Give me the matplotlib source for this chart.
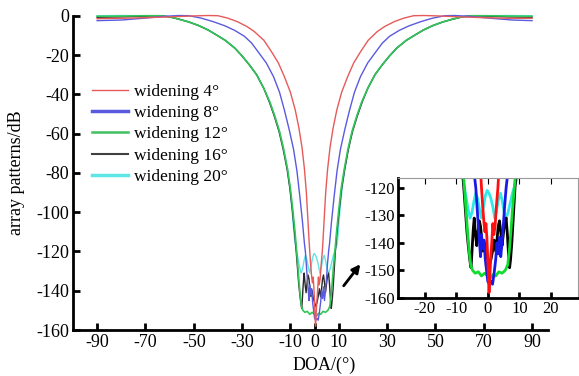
import numpy as np
import matplotlib
matplotlib.use("Agg")
import matplotlib.pyplot as plt
from matplotlib.lines import Line2D

plt.rcParams['font.family'] = ['Liberation Serif', 'DejaVu Serif']
plt.rcParams['axes.unicode_minus'] = False

# ---- data: DOA (deg) and array pattern (dB) ----
doa_4 = [-90, -80, -70, -60, -50, -44, -40, -36, -32, -28, -25, -21, -18, -15, -12.5, -10, -8, -6.5, -5.2, -4.2,
         -3.4, -2.8, -2.3, -2.0, -1.6, -1.2, -0.9, -0.6, -0.3, 0.0, 0.2, 0.4, 0.6, 0.9, 1.3, 1.6, 1.9, 2.3, 2.7,
         3.2, 3.5, 4.0, 4.6, 5.4, 6.4, 7.7, 9.2, 11.2, 13.7, 16.2, 19.2, 22.2, 26, 29, 33, 37, 41, 45, 51, 60,
         70, 80, 90]
db_4 = [-1.5, -1.3, -1.0, -0.6, -0.1, 0.1, 0, -1.2, -3, -5.5, -8, -12.5, -18, -24, -31, -39, -48, -57, -67, -78,
        -90, -103, -114, -120, -127, -133, -136, -133, -138, -146, -153, -158, -153, -146, -139, -133, -137, -134,
        -127, -120, -114, -103, -90, -78, -67, -57, -48, -39, -31, -24, -18, -12.5, -8, -5.5, -3, -1.2, 0, 0.1,
        -0.1, -0.6, -1.0, -1.3, -1.3]

doa_8 = [-90, -80, -70, -62, -56, -52, -47, -42, -37, -33, -29, -26, -23, -20, -17, -14.5, -12.5, -10.5, -8.7,
         -7.3, -6.1, -5.0, -4.2, -3.8, -3.4, -3.0, -2.6, -2.3, -2.0, -1.6, -1.2, -0.8, -0.4, 0.0, 0.5, 1.0, 1.5,
         2.0, 2.5, 2.9, 3.3, 3.7, 4.1, 4.5, 4.9, 5.3, 5.8, 6.2, 7.0, 8.1, 9.3, 10.7, 12.5, 14.5, 16.5, 19, 22,
         25, 28, 31, 35, 39, 44, 49, 54, 58, 64, 72, 82, 90]
db_8 = [-2.5, -2.2, -1.2, -0.3, 0.1, 0, -1.2, -3, -5.2, -7.5, -10.5, -14, -19, -24, -31, -39, -48, -58, -68,
        -79, -92, -105, -116, -120, -127, -134, -140, -145, -137, -142, -139, -146, -150, -154, -155, -154, -155,
        -151, -146, -140, -144, -138, -145, -140, -134, -127, -120, -116, -105, -92, -79, -68, -58, -48, -39,
        -31, -24, -19, -14, -10.5, -7.5, -5.2, -3, -1.2, 0, 0.1, -0.3, -1.2, -2.2, -2.5]

doa_12 = [-90, -80, -70, -64, -60, -56, -52, -48, -44, -41, -37, -33, -30, -27, -24, -21, -18.5, -16.5, -14.5,
          -12.8, -11.2, -10, -9, -8.1, -7.4, -6.9, -6.4, -5.9, -5.4, -4.8, -4.0, -3.0, -2.0, -1.0, 0.0, 0.8,
          1.6, 2.5, 3.5, 4.5, 5.5, 6.3, 6.8, 7.3, 7.8, 8.4, 9.1, 10, 11, 12.3, 13.8, 15.5, 17.5, 19.5, 22, 25,
          28, 31, 34, 38, 42, 45, 49, 53, 57, 61, 65, 71, 80, 90]
db_12 = [-0.3, -0.2, 0, 0, -0.6, -1.8, -3.2, -5, -7.3, -9.5, -12.5, -16.5, -20.5, -25, -30, -37, -44, -51, -59,
         -68, -78, -88, -99, -110, -120, -128, -136, -143, -148, -150, -151, -150.5, -152, -151, -152, -153,
         -151.5, -152, -150.5, -151, -150, -148, -143, -136, -128, -120, -110, -99, -88, -78, -68, -59, -51,
         -44, -37, -30, -25, -20.5, -16.5, -12.5, -9.5, -7.3, -5, -3.2, -1.8, -0.6, 0, 0, -0.2, -0.3]

doa_16 = [-90, -80, -70, -64, -60, -56, -52, -48, -44, -41, -37, -33, -30, -27, -24, -21, -18.7, -16.7, -14.7,
          -13.0, -11.4, -10.2, -9.2, -8.3, -7.6, -7.1, -6.6, -6.1, -5.6, -5.3, -5.0, -4.6, -4.3, -3.9, -3.5,
          -3.1, -2.7, -2.3, -1.9, -1.5, -1.0, -0.5, 0.0, 0.5, 1.0, 1.5, 2.0, 2.5, 2.9, 3.3, 3.7, 4.1, 4.5, 4.9,
          5.3, 5.8, 6.2, 6.6, 6.9, 7.2, 7.6, 8.0, 8.6, 9.3, 10.2, 11.2, 12.5, 14.0, 15.7, 17.7, 19.7, 22, 25, 28,
          31, 34, 38, 42, 45, 49, 53, 57, 61, 65, 71, 80, 90]
db_16 = [-0.8, -0.6, -0.2, 0, -0.6, -1.8, -3.2, -5, -7.3, -9.5, -12.5, -16.5, -20.5, -25, -30, -37, -44, -51,
         -59, -68, -78, -88, -99, -110, -120, -128, -136, -142, -147, -149, -143, -135, -131, -137, -141, -136,
         -132, -134, -139, -143, -140, -144, -146, -148, -146, -143, -139, -143, -139, -134, -132, -136, -141,
         -137, -133, -131, -137, -145, -149, -146, -140, -132, -120, -110, -99, -88, -78, -68, -59, -51, -44,
         -37, -30, -25, -20.5, -16.5, -12.5, -9.5, -7.3, -5, -3.2, -1.8, -0.6, 0, -0.2, -0.6, -0.8]

doa_20 = [-90, -80, -70, -64, -60, -56, -52, -48, -44, -41, -37, -33, -30, -27, -24, -21, -18.5, -16.5, -14.5,
          -12.8, -11.2, -10.2, -9.3, -8.6, -8.0, -7.4, -6.8, -6.2, -5.6, -5.0, -4.4, -3.8, -3.2, -2.6, -2.0,
          -1.4, -0.8, -0.2, 0.4, 1.0, 1.6, 2.2, 2.8, 3.4, 4.0, 4.6, 5.2, 5.8, 6.4, 7.0, 7.8, 8.6, 9.4, 9.8,
          10.5, 11.4, 12.5, 13.9, 15.5, 17.5, 19.5, 22, 25, 28, 31, 34, 38, 42, 45, 49, 53, 57, 61, 65, 71, 80, 90]
db_20 = [0, 0.1, 0, 0, -0.5, -1.8, -3.2, -5, -7.3, -9.5, -12.5, -16.5, -20.5, -25, -30, -37, -44, -51, -59,
         -68, -78, -88, -99, -110, -116, -120, -124, -128, -131, -129, -125, -122, -124, -128, -131, -127, -123,
         -121, -122, -124, -127, -131, -128, -124, -122, -125, -129, -131, -129, -126, -122, -119, -116, -110,
         -99, -88, -78, -68, -59, -51, -44, -37, -30, -25, -20.5, -16.5, -12.5, -9.5, -7.3, -5, -3.2, -1.8,
         -0.5, 0, 0, 0.1, 0]

labels = ["widening 4°", "widening 8°", "widening 12°", "widening 16°", "widening 20°"]
main_colors = ['#e65a5a', '#5a5ae0', '#34c457', '#2a2a2a', '#5ee6e6']
inset_colors = ['#ff1010', '#1a1ae6', '#10dd30', '#000000', '#30e8e8']
series = [(doa_4, db_4), (doa_8, db_8), (doa_12, db_12), (doa_16, db_16), (doa_20, db_20)]

main_xticks = [-90, -70, -50, -30, -10, 0, 10, 30, 50, 70, 90]

fig = plt.figure(figsize=(5.79, 3.76), dpi=100)
ax = fig.add_axes([0.126, 0.1223, 0.820, 0.8359])

# draw order: cyan, black, green, blue, red
order = [4, 3, 2, 1, 0]
for i in order:
    x, y = series[i]
    ax.plot(x, y, color=main_colors[i], lw=1.0 if i != 2 else 1.2, clip_on=False)

ax.set_xlim(-100, 96.5)
ax.set_ylim(-160, 0)
ax.set_xticks(main_xticks)
ax.set_yticks(np.arange(-160, 1, 20))
for s in ['top', 'right']:
    ax.spines[s].set_visible(False)
for s in ['left', 'bottom']:
    ax.spines[s].set_linewidth(2)
ax.tick_params(direction='in', length=5, width=2, labelsize=13, pad=3)
ax.set_ylabel("array patterns/dB", fontsize=13)
ax.yaxis.set_label_coords(-0.1, 0.5)
ax.set_xlabel("DOA/(°)", fontsize=13, labelpad=1)
ax.xaxis.set_label_coords(0.53, -0.085)

handles = [Line2D([], [], color=main_colors[0], lw=1.0),
           Line2D([], [], color=main_colors[1], lw=2.5),
           Line2D([], [], color='#40c060', lw=1.8),
           Line2D([], [], color='#404040', lw=1.5),
           Line2D([], [], color=main_colors[4], lw=2.5)]
ax.legend(handles, labels, loc='upper left', bbox_to_anchor=(0.04, 0.784), frameon=False,
          fontsize=12.5, handlelength=2.1, handletextpad=0.3, labelspacing=0.3, borderpad=0,
          borderaxespad=0)

# inset zoom on the null
axin = fig.add_axes([0.687, 0.2074, 0.311, 0.319])
for i in order:
    x, y = series[i]
    axin.plot(x, y, color=inset_colors[i], lw=2.0)
axin.set_xlim(-28.5, 28.5)
axin.set_ylim(-160, -116.5)
axin.set_xticks([-20, -10, 0, 10, 20])
axin.set_yticks([-160, -150, -140, -130, -120])
axin.spines['left'].set_linewidth(2)
axin.spines['bottom'].set_linewidth(2)
for s in ['top', 'right']:
    axin.spines[s].set_linewidth(0.8)
    axin.spines[s].set_color('#999999')
axin.tick_params(direction='in', length=4, width=2, labelsize=12, pad=2)
axin.tick_params(axis='x', which='major', top=True, labeltop=False)
for t in axin.xaxis.get_major_ticks():
    t.tick2line.set_color('#999999')
    t.tick2line.set_markeredgewidth(0.8)
axin.patch.set_alpha(0)

ax.annotate("", xy=(362, 114), xytext=(342, 88), xycoords='figure pixels', textcoords='figure pixels',
            arrowprops=dict(arrowstyle='-|>', lw=2, color='k', mutation_scale=12))

fig.savefig("out.png", dpi=100)
